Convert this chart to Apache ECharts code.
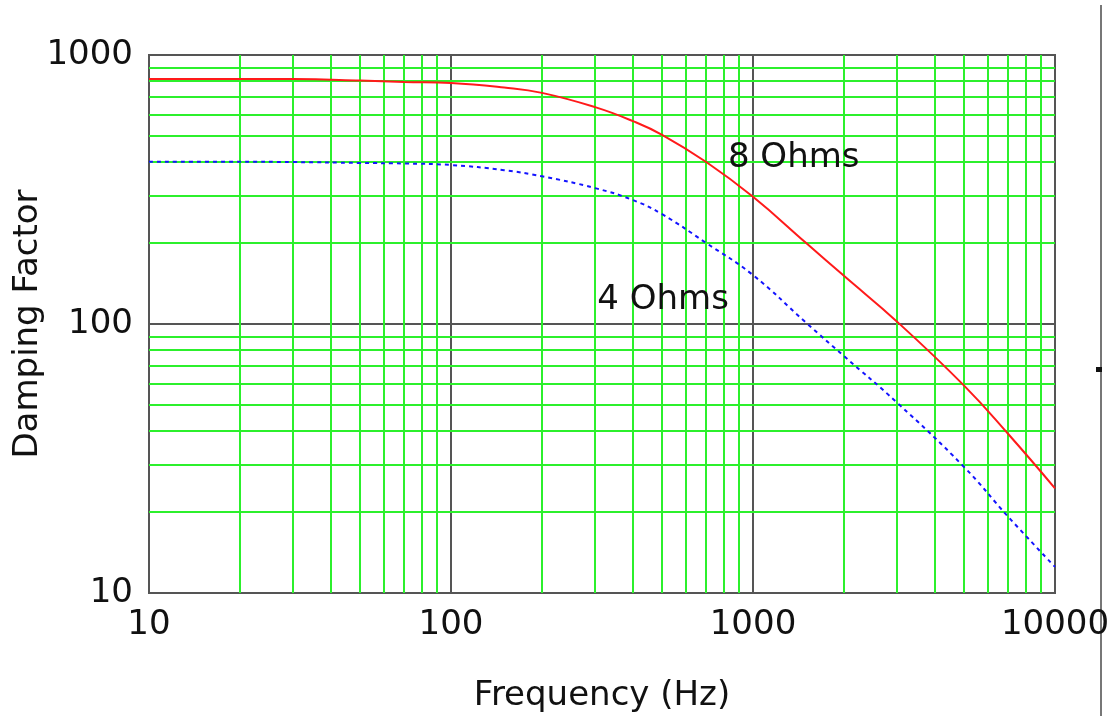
<!DOCTYPE html>
<html>
<head>
<meta charset="utf-8">
<script src="https://cdn.jsdelivr.net/npm/echarts@6/dist/echarts.min.js"></script>
<style>
html, body { margin: 0; padding: 0; background: #fff; }
#chart { width: 1113px; height: 719px; }
</style>
</head>
<body>
<div id="chart"></div>
<script>
// Frequencies (Hz) and damping factor
const freq = [10, 20, 30, 50, 70, 100, 150, 200, 300, 400, 500, 700, 1000, 1500, 2000, 3000, 5000, 7000, 10000]
const ohms8 = [815, 815, 814, 804, 794, 787, 757, 723, 640, 568, 505, 400, 297, 200, 151, 102, 59, 39, 24.5]
const ohms4 = [401, 401, 400, 397, 395, 390, 373, 354, 320, 289, 256, 200, 152, 101, 76, 51, 29.4, 19.2, 12.5]

// Minor grid values (2..9 per decade)
const minorX = [20, 30, 40, 50, 60, 70, 80, 90, 200, 300, 400, 500, 600, 700, 800, 900, 2000, 3000, 4000, 5000, 6000, 7000, 8000, 9000]
const minorY = [20, 30, 40, 50, 60, 70, 80, 90, 200, 300, 400, 500, 600, 700, 800, 900]

// Curve labels, in data coordinates [Hz, factor]
const label8 = [826, 414]
const label4 = [305, 123]

const FONT = 'DejaVu Sans'
const chart = echarts.init(document.getElementById('chart'))

const gridLines = [
  ...minorX.map(v => ({ xAxis: v })),
  ...minorY.map(v => ({ yAxis: v }))
]

const curveLabel = text => ({
  show: true,
  position: 'right',
  distance: 0,
  formatter: text,
  fontFamily: FONT,
  fontSize: 34,
  color: '#111'
})

chart.setOption({
  animation: false,
  backgroundColor: '#fff',
  grid: {
    left: 149,
    top: 55,
    right: 58,
    bottom: 126,
    containLabel: false,
    outerBoundsMode: 'none',
    show: true,
    borderColor: '#555',
    borderWidth: 2
  },
  xAxis: {
    type: 'log',
    logBase: 10,
    min: 10,
    max: 10000,
    name: 'Frequency (Hz)',
    nameLocation: 'middle',
    nameGap: 86,
    nameMoveOverlap: false,
    nameTextStyle: { fontFamily: FONT, fontSize: 34, color: '#111' },
    axisLine: { show: true, lineStyle: { color: '#555', width: 2 } },
    axisTick: { show: false },
    axisLabel: {
      fontFamily: FONT,
      fontSize: 34,
      color: '#111',
      margin: 15,
      formatter: v => String(Math.round(v))
    },
    splitLine: { show: true, lineStyle: { color: '#555', width: 2 } }
  },
  yAxis: {
    type: 'log',
    logBase: 10,
    min: 10,
    max: 1000,
    name: 'Damping Factor',
    nameLocation: 'middle',
    nameGap: 104,
    nameMoveOverlap: false,
    nameTextStyle: { fontFamily: FONT, fontSize: 34, color: '#111' },
    axisLine: { show: true, lineStyle: { color: '#555', width: 2 } },
    axisTick: { show: false },
    axisLabel: {
      fontFamily: FONT,
      fontSize: 34,
      color: '#111',
      margin: 16,
      formatter: v => String(Math.round(v))
    },
    splitLine: { show: true, lineStyle: { color: '#555', width: 2 } }
  },
  series: [
    {
      // minor green grid, drawn through the axes' own scales
      type: 'line',
      data: [],
      z: 1,
      silent: true,
      markLine: {
        z: 1,
        silent: true,
        symbol: 'none',
        label: { show: false },
        lineStyle: { color: '#2cf02c', width: 2, type: 'solid' },
        data: gridLines
      }
    },
    {
      name: '8 Ohms',
      type: 'line',
      z: 4,
      data: freq.map((f, i) => [f, ohms8[i]]),
      smooth: 0.45,
      showSymbol: false,
      lineStyle: { color: '#ff1a1a', width: 2 },
      markPoint: {
        z: 4,
        symbol: 'circle',
        symbolSize: 0,
        data: [{ coord: label8 }],
        label: curveLabel('8 Ohms')
      }
    },
    {
      name: '4 Ohms',
      type: 'line',
      z: 4,
      data: freq.map((f, i) => [f, ohms4[i]]),
      smooth: 0.45,
      showSymbol: false,
      lineStyle: { color: '#1414ff', width: 2, type: [4, 4] },
      markPoint: {
        z: 4,
        symbol: 'circle',
        symbolSize: 0,
        data: [{ coord: label4 }],
        label: curveLabel('4 Ohms')
      }
    }
  ],
  graphic: [
    {
      type: 'line',
      shape: { x1: 1101, y1: 5, x2: 1101, y2: 716 },
      style: { stroke: '#777', lineWidth: 2 }
    },
    {
      type: 'rect',
      shape: { x: 1096, y: 367, width: 6, height: 5 },
      style: { fill: '#111' }
    }
  ]
})
</script>
</body>
</html>
